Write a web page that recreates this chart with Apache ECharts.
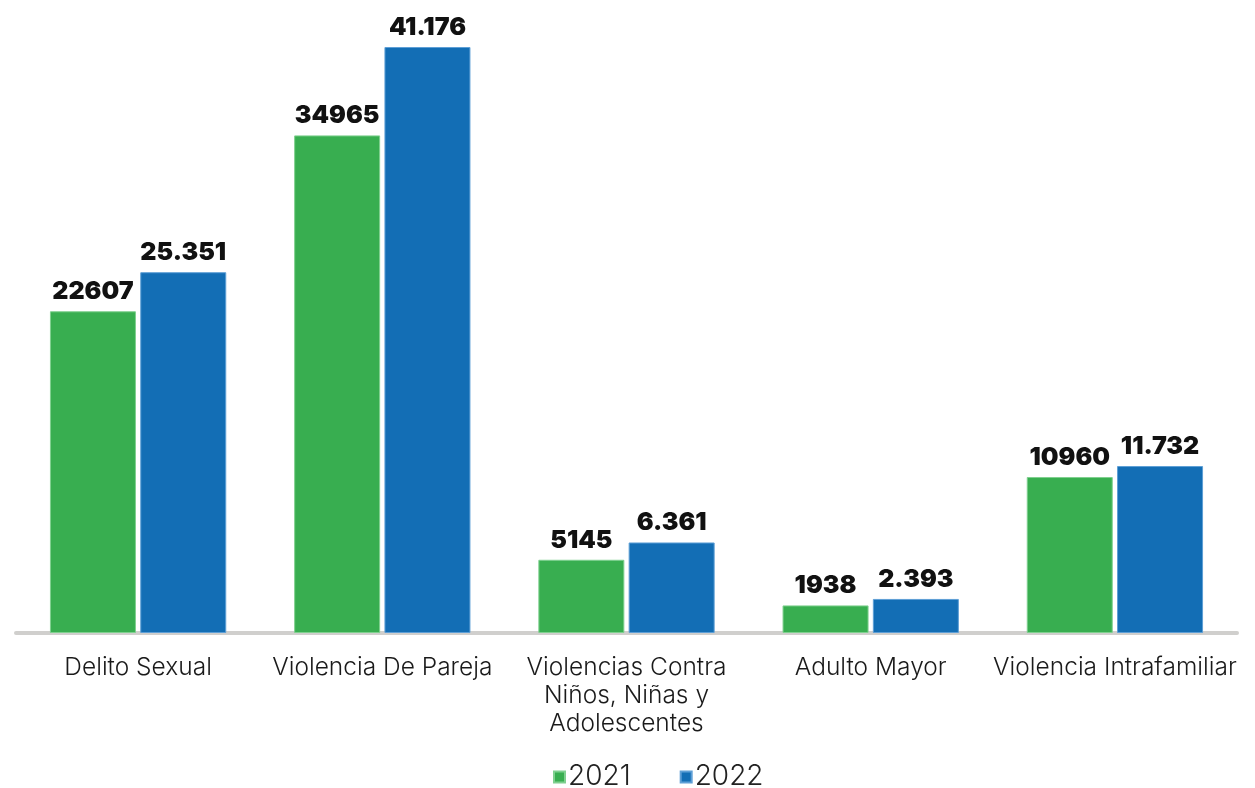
<!DOCTYPE html>
<html><head><meta charset="utf-8">
<script src="https://cdn.jsdelivr.net/npm/echarts@6/dist/echarts.min.js"></script>
<style>html,body{margin:0;padding:0;background:#fff}#c{width:1255px;height:788px}</style>
</head><body><div id="c"></div>
<script>
const categories = ['Delito Sexual', 'Violencia De Pareja', 'Violencias Contra\nNiños, Niñas y\nAdolescentes', 'Adulto Mayor', 'Violencia Intrafamiliar'];
const seriesNames = ['2021', '2022'];
const values2021 = [22607, 34965, 5145, 1938, 10960];
const values2022 = [25351, 41176, 6361, 2393, 11732];

const fmtDot = v => String(v).replace(/\B(?=(\d{3})+(?!\d))/g, '.');
const FONT = 'Inter, Lato, "DejaVu Sans", sans-serif';
const labelStyle = {show: true, position: 'top', distance: 7, color: '#111', fontFamily: FONT, fontWeight: 900, fontSize: 25};

const chart = echarts.init(document.getElementById('c'), null, {renderer: 'canvas'});
chart.setOption({
  animation: false,
  backgroundColor: '#fff',
  grid: {left: 16, right: 18, top: 47, bottom: 155, containLabel: false},
  legend: {
    top: 758, left: 548, icon: 'rect', itemWidth: 11, itemHeight: 11, itemGap: 49,
    textStyle: {fontFamily: FONT, fontSize: 28, fontWeight: 300, color: '#222', padding: [0, 0, 0, -2]},
    data: seriesNames
  },
  xAxis: {
    type: 'category', data: categories,
    axisLine: {show: true, lineStyle: {color: '#D0CFCD', width: 4, cap: 'round'}},
    axisTick: {show: false},
    axisLabel: {interval: 0, margin: 21, fontFamily: FONT, fontSize: 24.5, fontWeight: 300, color: '#1a1a1a', lineHeight: 28}
  },
  yAxis: {type: 'value', min: 0, max: 41176, show: false, splitLine: {show: false}},
  series: [
    {name: seriesNames[0], type: 'bar', data: values2021, barWidth: 86, barGap: '5%',
     itemStyle: {color: '#38AE50', borderColor: '#7fd08f', borderWidth: 1},
     label: Object.assign({}, labelStyle, {formatter: p => String(p.value)})},
    {name: seriesNames[1], type: 'bar', data: values2022, barWidth: 86,
     itemStyle: {color: '#136EB5', borderColor: '#5e9fd6', borderWidth: 1},
     label: Object.assign({}, labelStyle, {formatter: p => fmtDot(p.value)})}
  ]
});
</script></body></html>
